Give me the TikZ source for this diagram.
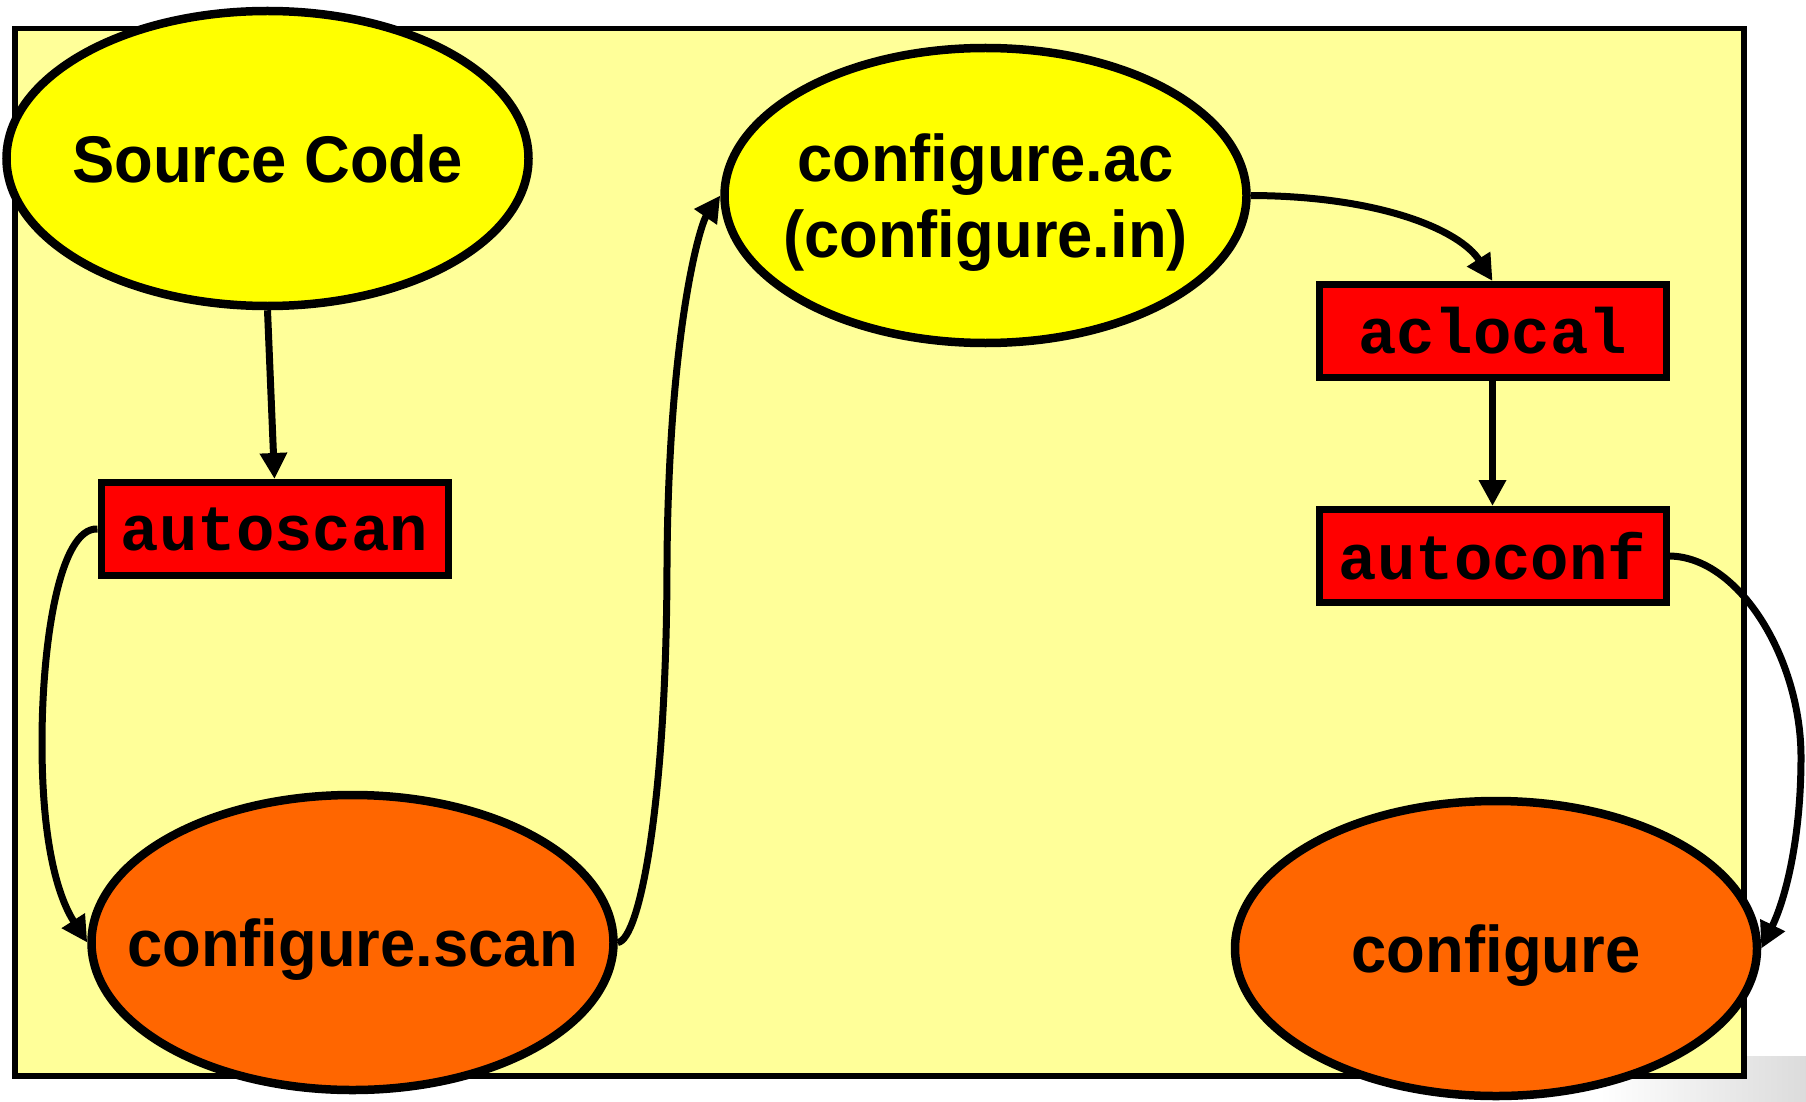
\documentclass[tikz,border=0pt]{standalone}
\usepackage{fontspec}
\usetikzlibrary{arrows.meta,shapes.geometric}
\newfontfamily\diagsans[FakeStretch=0.96]{Liberation Sans}
\newfontfamily\diagmono{Liberation Mono}
\definecolor{bgyellow}{HTML}{FFFF99}
\definecolor{nodeyellow}{HTML}{FFFF00}
\definecolor{nodeorange}{HTML}{FF6600}
\definecolor{boxred}{HTML}{FF0000}
\newcommand{\zw}[1]{\makebox[0pt][c]{#1}}
\begin{document}
\begin{tikzpicture}[x=1pt,y=-1pt,
  ell/.style={ellipse, draw=black, line width=8.5pt, minimum width=522pt,
    minimum height=295pt, inner sep=0pt,
    font=\diagsans\bfseries\fontsize{66}{76}\selectfont},
  prog/.style={rectangle, draw=black, line width=7pt, fill=boxred,
    minimum width=347pt, minimum height=93pt, inner sep=0pt,
    font=\diagmono\bfseries\fontsize{64}{70}\selectfont},
  flow/.style={draw=black, line width=7pt, -{Triangle[length=26pt,width=26pt]}}
]
\useasboundingbox (0,0) rectangle (1806,1102);
\fill[white] (0,0) rectangle (1806,1102);
\shade[left color=white, right color=black!14] (1600,1056) rectangle (1806,1102);
\draw[line width=5.5pt, fill=bgyellow] (15,28.5) rectangle (1744,1076);

\node[ell, fill=nodeyellow, text depth=0pt] (sc) at (267.5,158.5) {\zw{Source Code}};
\node[ell, fill=nodeyellow, text height=60pt, text depth=88pt] (ca) at (985.5,195.5)
  {\zw{\begin{tabular}[t]{@{}c@{}}configure.ac\\(configure.in)\end{tabular}}};
\node[ell, fill=nodeorange, text depth=0pt] (cs) at (352.5,942.5) {\zw{configure.scan}};
\node[ell, fill=nodeorange, text depth=0pt] (cf) at (1496,948.5) {\zw{configure}};

\node[prog] (as) at (274.5,529) {autoscan};
\node[prog] (al) at (1492.5,331) {aclocal};
\node[prog] (ac) at (1492.5,556) {autoconf};

\coordinate (leftmid) at (42,743);
\coordinate (centermid) at (667,560);
\coordinate (rightmid) at (1801,757);

\draw[flow] (sc.south) -- (as.north);
\draw[flow] (as.west) .. controls (60,527) and (42,640) .. (leftmid)
  .. controls (42,850) and (60,900) .. (cs.west);
\draw[flow] (cs.east) .. controls (640,940) and (667,800) .. (centermid)
  .. controls (669,330) and (700,225) .. (ca.west);
\draw[flow] (ca.east) .. controls (1380,196) and (1460,230) .. (al.north);
\draw[flow] (al.south) -- (ac.north);
\draw[flow] (ac.east) .. controls (1740,557) and (1801,660) .. (rightmid)
  .. controls (1801,840) and (1785,900) .. (cf.east);
\end{tikzpicture}
\end{document}
